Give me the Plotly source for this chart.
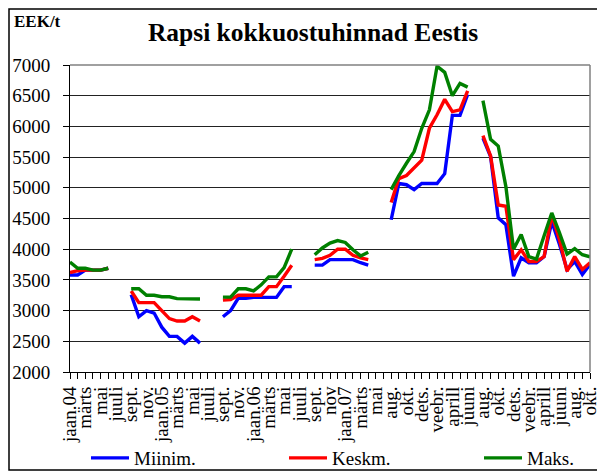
import plotly.graph_objects as go

tick_labels = ["jaan.04", "märts", "mai", "juuli", "sept.", "nov.",
               "jaan.05", "märts", "mai", "juuli", "sept.", "nov.",
               "jaan.06", "märts", "mai", "juuli", "sept.", "nov",
               "jaan.07", "märts", "mai", "aug.", "okt.", "dets.",
               "veebr.", "aprill", "juuni", "aug.", "okt.", "dets.",
               "veebr.", "aprill", "juuni", "aug.", "okt."]

N = None
miinim = [3580, 3580, 3660, 3660, 3660, 3690, N, N,
          3260, 2900, 3000, 2960, 2730, 2580, 2580, 2470, 2580, 2470, N, N,
          2900, 3000, 3200, 3200, 3215, 3215, 3215, 3215, 3390, 3390, N, N,
          3740, 3740, 3830, 3830, 3830, 3830, 3780, 3740, N, N,
          4480, 5070, 5050, 4970, 5070, 5070, 5070, 5230, 6180, 6180, 6520, N,
          5810, 5510, 4510, 4400, 3560, 3860, 3780, 3780, 3880, 4450, 4080,
          3670, 3800, 3590, 3750]
keskm = [3620, 3650, 3660, 3660, 3660, 3690, N, N,
         3320, 3130, 3130, 3130, 3000, 2870, 2830, 2830, 2900, 2830, N, N,
         3170, 3180, 3250, 3250, 3250, 3250, 3390, 3390, 3560, 3740, N, N,
         3830, 3850, 3900, 4000, 4000, 3900, 3860, 3830, N, N,
         4760, 5150, 5200, 5330, 5450, 5970, 6190, 6440, 6240, 6270, 6580, N,
         5850, 5520, 4720, 4700, 3830, 3990, 3800, 3800, 3880, 4560, 4160,
         3640, 3880, 3670, 3780]
maks = [3790, 3690, 3690, 3660, 3660, 3690, N, N,
        3355, 3355, 3250, 3250, 3225, 3225, 3195, 3190, 3190, 3190, N, N,
        3220, 3220, 3355, 3355, 3320, 3420, 3550, 3550, 3700, 4000, N, N,
        3910, 4020, 4100, 4140, 4110, 3990, 3890, 3950, N, N,
        4970, 5200, 5400, 5590, 5970, 6270, 6980, 6880, 6500, 6700, 6640, N,
        6420, 5790, 5680, 5020, 4000, 4240, 3880, 3840, 4220, 4590, 4270,
        3920, 4010, 3910, 3875]

x = list(range(len(miinim)))
tickvals = x[::2]

serif = "Liberation Serif"
L, T, PW, PH = 62, 57, 520, 307
W, H = 597, 465

fig = go.Figure()
series = [("Miinim.", miinim, "#0000FF", "legend", 86),
          ("Keskm.", keskm, "#FF0000", "legend2", 284),
          ("Maks.", maks, "#008000", "legend3", 479)]
legend_cfg = {}
for name, vals, col, lg, lx in series:
    fig.add_trace(go.Scatter(x=x, y=vals, mode="lines", name=name,
                             line=dict(color=col, width=3.4),
                             connectgaps=False, legend=lg))
    legend_cfg[lg] = dict(orientation="h", x=(lx - 8 - L) / PW, y=(T + PH - 450) / PH,
                          xanchor="left", yanchor="middle", itemwidth=38,
                          font=dict(family=serif, size=19),
                          bgcolor="rgba(0,0,0,0)")

fig.update_layout(
    width=W, height=H,
    margin=dict(l=L, r=W - L - PW, t=T, b=H - T - PH, autoexpand=False),
    paper_bgcolor="white", plot_bgcolor="white",
    font=dict(family=serif, size=19, color="black"),
    showlegend=True,
    title=dict(text="<b>Rapsi kokkuostuhinnad Eestis</b>", x=(313 - 8) / W, xanchor="center",
               y=1 - 24 / H, yanchor="middle",
               font=dict(family=serif, size=25.5, color="black")),
    **legend_cfg,
)
fig.update_xaxes(range=[0, len(x) - 1], tickmode="array", tickvals=tickvals,
                 ticktext=tick_labels, tickangle=-90, ticks="outside", ticklen=6,
                 tickcolor="black", showline=True, linecolor="black", linewidth=1,
                 showgrid=False, zeroline=False, mirror=False, automargin=False,
                 tickfont=dict(family=serif, size=19),
                 minor=dict(ticks="outside", ticklen=6, tickcolor="black",
                            tick0=0, dtick=1, showgrid=False))
fig.update_yaxes(range=[2000, 7000], dtick=500, ticks="outside", ticklen=6,
                 tickcolor="black", showline=True, linecolor="black", linewidth=1,
                 showgrid=True, gridcolor="#222222", gridwidth=1, zeroline=False,
                 ticklabelstandoff=9, automargin=False,
                 tickfont=dict(family=serif, size=19))

# plot-area border on top/right (grey)
fig.add_shape(type="line", xref="paper", yref="paper", x0=0, x1=1, y0=1, y1=1,
              line=dict(color="#808080", width=1.5))
fig.add_shape(type="line", xref="paper", yref="paper", x0=1, x1=1, y0=0, y1=1,
              line=dict(color="#808080", width=1.5))
# chart-area border
fig.add_shape(type="rect", xref="paper", yref="paper",
              x0=(1 - L) / PW, x1=(595 - L) / PW,
              y0=(T + PH - 462) / PH, y1=(T + PH - 1) / PH,
              line=dict(color="black", width=1.5), fillcolor="rgba(0,0,0,0)", layer="below")
fig.add_annotation(text="<b>EEK/t</b>", xref="paper", yref="paper",
                   x=(4 - L) / PW, y=(T + PH - 14) / PH, xanchor="left", yanchor="middle",
                   showarrow=False, font=dict(family=serif, size=17, color="black"))

fig.write_html("out.html")
